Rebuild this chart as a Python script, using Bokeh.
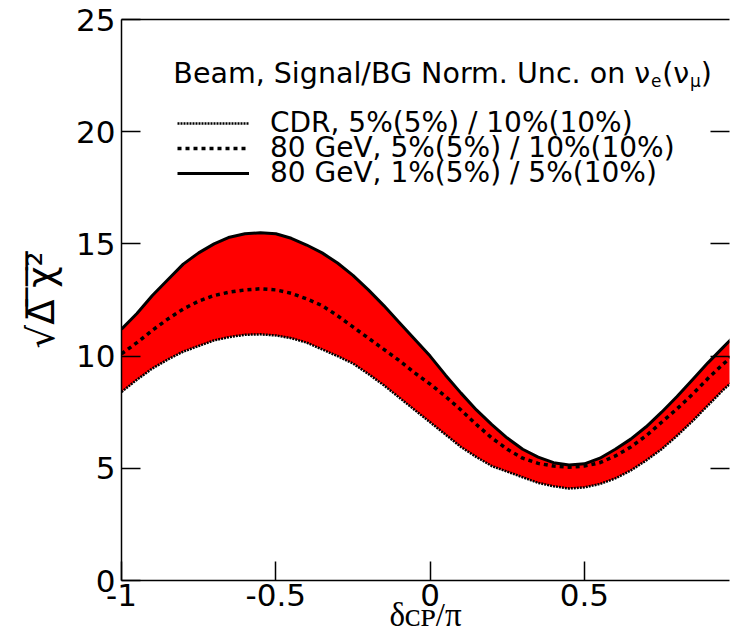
from bokeh.plotting import figure
from bokeh.models import (ColumnDataSource, LinearAxis, FixedTicker, Legend,
                          LegendItem, Label, Range1d, CustomLabelingPolicy)
from bokeh.embed import file_html
from bokeh.resources import INLINE
from bokeh.core.properties import value

# delta_CP / pi
delta_cp = [-1.0, -0.95, -0.9, -0.85, -0.8, -0.75, -0.7, -0.65, -0.6, -0.55,
            -0.5, -0.45, -0.4, -0.35, -0.3, -0.25, -0.2, -0.15, -0.1, -0.05,
            0.0, 0.05, 0.1, 0.15, 0.2, 0.25, 0.3, 0.35, 0.4, 0.45,
            0.5, 0.55, 0.6, 0.65, 0.7, 0.75, 0.8, 0.85, 0.9, 0.95, 1.0]

# CDR, 5%(5%) / 10%(10%)  (dotted, lower edge of band)
sens_cdr = [8.4, 8.95, 9.45, 9.85, 10.2, 10.45, 10.7, 10.85, 10.95, 10.97,
            10.92, 10.8, 10.6, 10.3, 10.0, 9.67, 9.2, 8.7, 8.15, 7.6,
            7.05, 6.5, 5.95, 5.5, 5.1, 4.85, 4.6, 4.35, 4.2, 4.1,
            4.15, 4.3, 4.55, 4.9, 5.35, 5.85, 6.45, 7.1, 7.8, 8.5, 9.1]

# 80 GeV, 5%(5%) / 10%(10%)  (dashed)
sens_80_std = [10.1, 10.6, 11.15, 11.65, 12.1, 12.45, 12.7, 12.85, 12.95, 13.0,
               12.95, 12.8, 12.55, 12.25, 11.8, 11.3, 10.8, 10.3, 9.8, 9.25,
               8.75, 8.2, 7.6, 6.95, 6.35, 5.85, 5.45, 5.22, 5.1, 5.05,
               5.1, 5.25, 5.55, 5.95, 6.45, 7.05, 7.65, 8.3, 9.0, 9.65, 10.25]

# 80 GeV, 1%(5%) / 5%(10%)  (solid, upper edge of band)
sens_80_opt = [11.2, 11.9, 12.7, 13.4, 14.1, 14.6, 15.0, 15.3, 15.45, 15.5,
               15.45, 15.25, 14.95, 14.6, 14.15, 13.6, 12.95, 12.25, 11.5, 10.75,
               10.0, 9.15, 8.35, 7.6, 6.95, 6.35, 5.85, 5.5, 5.25, 5.15,
               5.2, 5.45, 5.85, 6.3, 6.85, 7.5, 8.2, 8.95, 9.7, 10.4, 11.1]

labels = ["CDR, 5%(5%) / 10%(10%)",
          "80 GeV, 5%(5%) / 10%(10%)",
          "80 GeV, 1%(5%) / 5%(10%)"]

x_ticks = [-1, -0.5, 0, 0.5, 1]
x_tick_labels = ["-1", "-0.5", "0", "0.5", "1"]
y_ticks = [0, 5, 10, 15, 20, 25]

SANS = "DejaVu Sans"
SERIF = "Liberation Serif"

p = figure(width=733, height=635, x_range=Range1d(-1, 0.97), y_range=Range1d(0, 25),
           output_backend="svg", toolbar_location=None,
           min_border_left=121, min_border_right=0, min_border_top=19,
           min_border_bottom=55)
p.outline_line_color = None
p.xgrid.visible = False
p.ygrid.visible = False
p.background_fill_color = "white"
p.border_fill_color = "white"

src = ColumnDataSource(dict(x=delta_cp, lo=sens_cdr, mid=sens_80_std, hi=sens_80_opt))
p.varea(x="x", y1="lo", y2="hi", source=src, fill_color="#ff0000")
r_cdr = p.line("x", "lo", source=src, line_color="black", line_width=2.5, line_dash="2 1")
r_std = p.line("x", "mid", source=src, line_color="black", line_width=3.5, line_dash="4 4")
r_opt = p.line("x", "hi", source=src, line_color="black", line_width=3)

def style_axis(ax):
    ax.axis_line_color = "black"
    ax.axis_line_width = 1.5
    ax.major_tick_line_color = "black"
    ax.major_tick_line_width = 1.5
    ax.major_tick_in = 19
    ax.major_tick_out = 0
    ax.minor_tick_in = 0
    ax.minor_tick_out = 0
    ax.minor_tick_line_color = None
    ax.major_label_text_font = SANS
    ax.major_label_text_font_size = "31px"
    ax.major_label_text_color = "black"

xa = p.xaxis[0]
style_axis(xa)
xa.ticker = FixedTicker(ticks=x_ticks)
xa.major_label_overrides = {t: s for t, s in zip(x_ticks, x_tick_labels)}
xa.major_label_standoff = 3
xa.axis_label = "δᴄᴘ/π"
xa.axis_label_text_font = SERIF
xa.axis_label_text_font_size = "33px"
xa.axis_label_text_font_style = "normal"
xa.axis_label_text_color = "black"
xa.axis_label_standoff = -12

ya = p.yaxis[0]
style_axis(ya)
ya.ticker = FixedTicker(ticks=y_ticks)
ya.major_label_standoff = 6
ya.axis_label = "√Δ\u0305 \u0305χ\u0305²\u0305"
ya.axis_label_text_font = SANS
ya.axis_label_text_font_size = "37px"
ya.axis_label_text_font_style = "normal"
ya.axis_label_text_color = "black"
ya.axis_label_standoff = 10

top = LinearAxis(ticker=FixedTicker(ticks=[]))
style_axis(top)
top.major_tick_in = 0
top.major_label_standoff = 0
p.add_layout(top, "above")

right = LinearAxis(ticker=FixedTicker(ticks=[5, 10, 15, 20]))
style_axis(right)
right.axis_line_color = None
right.major_label_standoff = 0
right.major_label_text_font_size = "1px"
right.major_label_policy = CustomLabelingPolicy(
    code="const arr = Array.from(indices); for (const i of arr) { indices.unset(i) } return indices")
p.add_layout(right, "right")

# three single-row legends, 25 px apart as in the original
renderers = [r_cdr, r_std, r_opt]
legend_y = [441, 416, 391]
for lab, rend, ly in zip(labels, renderers, legend_y):
    lg = Legend(items=[LegendItem(label=value(lab), renderers=[rend])],
                location=(56, ly), padding=0, margin=0, spacing=0,
                glyph_width=72, glyph_height=20, label_height=20, label_standoff=21,
                label_text_font=SANS, label_text_font_size="28px",
                label_text_color="black",
                border_line_color=None, background_fill_alpha=0)
    p.add_layout(lg)

# legend header with subscripts
hdr_y = 22.59
sub_y = 22.28
def hdr(x, y, t, size):
    p.add_layout(Label(x=x, y=y, text=t, text_font=SANS, text_font_size=size,
                       text_color="black", text_baseline="alphabetic"))
hdr(-0.832, hdr_y, "Beam, Signal/BG Norm. Unc. on ν", "28.5px")
hdr(0.716, sub_y, "e", "17px")
hdr(0.752, hdr_y, "(ν", "28.5px")
hdr(0.842, sub_y, "μ", "17px")
hdr(0.877, hdr_y, ")", "28.5px")

open("out.html", "w").write(file_html(p, INLINE))
